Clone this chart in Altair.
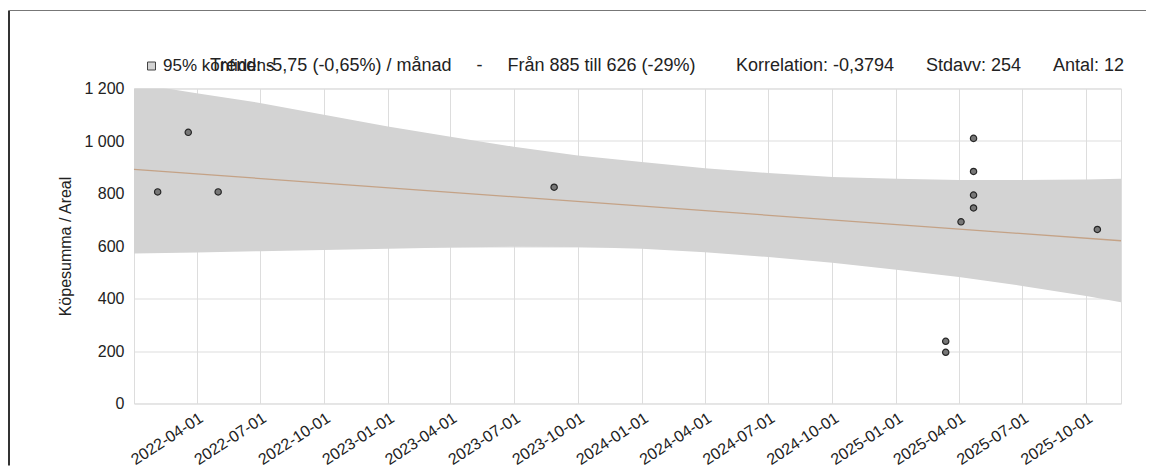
import altair as alt
import pandas as pd

# ---------------- data ----------------
pt_dates = ["2022-02-04", "2022-03-20", "2022-05-02", "2023-08-28",
            "2025-03-13", "2025-03-13", "2025-04-04",
            "2025-04-22", "2025-04-22", "2025-04-22", "2025-04-22",
            "2025-10-17"]
pt_values = [806, 1033, 806, 824, 237, 195, 692, 1010, 884, 794, 745, 663]

trend_dates = ["2022-01-01", "2025-11-20"]
trend_values = [892, 620]

band_dates = ["2022-01-01", "2022-04-01", "2022-07-01", "2022-10-01",
              "2023-01-01", "2023-04-01", "2023-07-01", "2023-10-01",
              "2024-01-01", "2024-04-01", "2024-07-01", "2024-10-01",
              "2025-01-01", "2025-04-01", "2025-07-01", "2025-10-01",
              "2025-11-20"]
band_lower = [571, 575, 580, 585, 590, 594, 597, 596, 590, 576, 558, 536,
              510, 482, 448, 410, 386]
band_upper = [1220, 1182, 1145, 1100, 1055, 1016, 978, 945, 920, 896, 878,
              863, 856, 851, 851, 853, 856]
band_label = "95% konfidens"

tick_dates = ["2022-04-01", "2022-07-01", "2022-10-01", "2023-01-01",
              "2023-04-01", "2023-07-01", "2023-10-01", "2024-01-01",
              "2024-04-01", "2024-07-01", "2024-10-01", "2025-01-01",
              "2025-04-01", "2025-07-01", "2025-10-01"]
y_ticks = [0, 200, 400, 600, 800, 1000, 1200]

NB = "\u00a0"
trend_text = ("Trend: -5,75 (-0,65%) / månad" + NB * 5 + "-" + NB * 5 +
              "Från 885 till 626 (-29%)")
corr_text = "Korrelation: -0,3794"
std_text = "Stdavv: 254"
count_text = "Antal: 12"
y_title = "Köpesumma / Areal"

# ---------------- helpers ----------------
def dt(s):
    y, m, d = (int(v) for v in s.split("-"))
    return alt.DateTime(year=y, month=m, date=d, utc=True)

FONT = "Liberation Sans"
TXT = "#222222"

band_df = pd.DataFrame({"date": band_dates, "lo": band_lower, "hi": band_upper,
                        "serie": [band_label] * len(band_dates)})
trend_df = pd.DataFrame({"date": trend_dates, "v": trend_values})
pts_df = pd.DataFrame({"date": pt_dates, "v": pt_values})

x_scale = alt.Scale(type="utc", domain=[dt(band_dates[0]), dt(band_dates[-1])], nice=False)
y_scale = alt.Scale(domain=[0, 1200], nice=False)

x_axis = alt.Axis(values=[dt(s) for s in tick_dates],
                  labelExpr="utcFormat(datum.value, '%Y-%m-%d')",
                  labelAngle=-33, labelAlign="right", labelBaseline="top",
                  labelPadding=6, labelOverlap=False, labelBound=False,
                  ticks=False, domain=False, grid=True,
                  title=None, labelFontSize=16, labelFont=FONT, labelColor=TXT)
y_axis = alt.Axis(values=y_ticks,
                  labelExpr="replace(format(datum.value, ','), ',', ' ')",
                  ticks=False, domain=False, grid=True, labelPadding=10,
                  title=y_title, titleFontSize=16, titleFont=FONT,
                  titleFontWeight="normal", titleColor=TXT, titlePadding=10,
                  labelFontSize=16, labelFont=FONT, labelColor=TXT)

band = alt.Chart(band_df).mark_area(clip=True, opacity=1).encode(
    x=alt.X("date:T", scale=x_scale, axis=x_axis),
    y=alt.Y("lo:Q", scale=y_scale, axis=y_axis),
    y2="hi:Q",
    color=alt.Color("serie:N", scale=alt.Scale(range=["#d3d3d3"]),
                    legend=alt.Legend(title=None, orient="none", legendX=9, legendY=-31,
                                      symbolType="square", symbolSize=64,
                                      symbolStrokeColor="#444444", symbolStrokeWidth=1,
                                      labelFontSize=17, labelFont=FONT, labelColor=TXT,
                                      padding=0, labelOffset=3)),
)

trend = alt.Chart(trend_df).mark_line(color="#c4a286", strokeWidth=1.3).encode(
    x=alt.X("date:T", scale=x_scale),
    y=alt.Y("v:Q", scale=y_scale),
)

points = alt.Chart(pts_df).mark_circle(size=40, color="#777777", stroke="#262626",
                                       strokeWidth=1.2, opacity=1).encode(
    x=alt.X("date:T", scale=x_scale),
    y=alt.Y("v:Q", scale=y_scale),
)

def text_layer(s, xpos):
    return alt.Chart(pd.DataFrame({"t": [s]})).mark_text(
        align="left", baseline="alphabetic", fontSize=18, font=FONT, color=TXT
    ).encode(x=alt.value(xpos), y=alt.value(-18), text="t:N")

texts = [text_layer(trend_text, 76), text_layer(corr_text, 602),
         text_layer(std_text, 792), text_layer(count_text, 919)]

frame_df = pd.DataFrame({"k": [0]})
frame_left = alt.Chart(frame_df).mark_rule(color="#333333", strokeWidth=2).encode(
    x=alt.value(-125), y=alt.value(-78), y2=alt.value(377))
frame_top = alt.Chart(frame_df).mark_rule(color="#777777", strokeWidth=1).encode(
    x=alt.value(-125), x2=alt.value(1012), y=alt.value(-78))

chart = alt.layer(band, trend, points, *texts, frame_left, frame_top).properties(
    width=987, height=315,
    padding={"left": 0, "top": 1.5, "right": 0, "bottom": 0},
).configure_view(stroke="#c8c8c8").configure_axis(
    gridColor="#c8c8c8", gridWidth=1
).configure(background="white")

chart.save("out.html", embed_options={"renderer": "svg", "actions": False})
